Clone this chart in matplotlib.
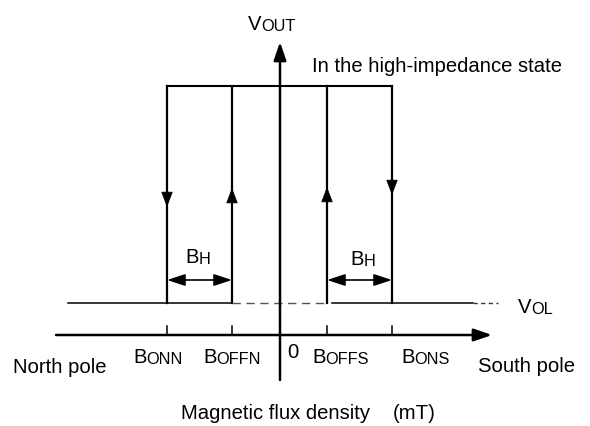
import matplotlib
matplotlib.use("Agg")
import matplotlib.pyplot as plt

# Schematic data (arbitrary flux units on the horizontal axis)
thresholds = ["BONN", "BOFFN", "BOFFS", "BONS"]
b_values = [-113, -48, 47, 112]          # switching points
levels = {"high": 217, "vol": 0}         # output levels (arbitrary)
x_range = [-224, 212]                    # x axis extent
vol_solid_left = [-212, -48]
vol_dash_mid = [-48, 47]
vol_solid_right = [52, 193]
vol_dash_right = [193, 218]
arrow_dirs = ["down", "up", "up", "down"]
arrow_tips = [96, 115, 116, 108]

fig = plt.figure(figsize=(5.9, 4.26), dpi=100)
ax = fig.add_axes([0, 0, 1, 1])
# map: pixel x = 280 + X ; pixel y = 303 - Y
ax.set_xlim(-280, 310)
ax.set_ylim(303 - 426, 303)
ax.axis("off")

k = "black"
FS = 14.6
FAM = "Liberation Sans"
axis_head = "-|>,head_length=1.1,head_width=0.38"
# x axis
ax.annotate("", xy=(x_range[1], -32), xytext=(x_range[0], -32),
            arrowprops=dict(arrowstyle=axis_head, color=k, lw=1.8, shrinkA=0, shrinkB=0))
# y axis
ax.annotate("", xy=(0, 261), xytext=(0, -77),
            arrowprops=dict(arrowstyle=axis_head, color=k, lw=1.8, shrinkA=0, shrinkB=0))
# ticks
for b in b_values:
    ax.plot([b, b], [-32, -23], color=k, lw=1.1)

# high level
ax.plot([b_values[0], b_values[-1]], [levels["high"]] * 2, color=k, lw=1.5)
# verticals with direction arrows
head = "-|>,head_length=1.0,head_width=0.38"
for b, d, tip in zip(b_values, arrow_dirs, arrow_tips):
    ax.plot([b, b], [levels["vol"], levels["high"]], color=k, lw=1.6)
    tail = tip + 20 if d == "down" else tip - 20
    ax.annotate("", xy=(b, tip), xytext=(b, tail),
                arrowprops=dict(arrowstyle=head, color=k, lw=0.5, shrinkA=0, shrinkB=0))

# VOL line
ax.plot(vol_solid_left, [0, 0], color=k, lw=1.1)
ax.plot(vol_dash_mid, [0, 0], color="#555555", lw=1.0, ls=(0, (6, 4)))
ax.plot(vol_solid_right, [0, 0], color=k, lw=1.1)
ax.plot(vol_dash_right, [0, 0], color="#333333", lw=1.0, ls=(0, (3, 2.5)))

# hysteresis width arrows
for a, b in [(b_values[0], b_values[1]), (b_values[2], b_values[3])]:
    ax.annotate("", xy=(b, 23), xytext=(a, 23),
                arrowprops=dict(arrowstyle="<|-|>,head_length=1.1,head_width=0.36",
                                color=k, lw=1.2, shrinkA=0, shrinkB=0))


def smallcaps(x, y, first, rest, size=FS):
    t = ax.text(x, y, first, fontsize=size, ha="left", va="baseline", family=FAM)
    ax.annotate(rest, xy=(1, 0), xycoords=t, fontsize=size * 0.8, va="bottom",
                ha="left", family=FAM, annotation_clip=False)
    return t

# labels
smallcaps(-95, 40, "B", "H")
smallcaps(70, 38, "B", "H")
smallcaps(-32, 273, "V", "OUT")
ax.text(32, 231, "In the high-impedance state", fontsize=FS, family=FAM, va="baseline")
smallcaps(238, -10, "V", "OL")

label_left = [-147, -77, 32, 121]
for lx, name in zip(label_left, thresholds):
    smallcaps(lx, -60, name[0], name[1:])
ax.text(7, -55, "0", fontsize=FS, family=FAM, va="baseline")
ax.text(-267, -70, "North pole", fontsize=FS, family=FAM, va="baseline")
ax.text(198, -69, "South pole", fontsize=FS, family=FAM, va="baseline")
ax.text(-99, -116, "Magnetic flux density", fontsize=FS, family=FAM, va="baseline")
ax.text(113, -116, "(mT)", fontsize=FS, family=FAM, va="baseline")

fig.savefig("out.png", dpi=100)
